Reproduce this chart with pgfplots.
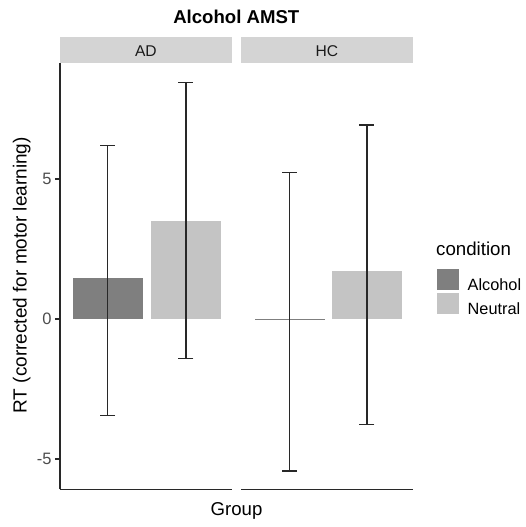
\documentclass[border=0pt]{standalone}
\usepackage{fontspec}
\setmainfont{Liberation Sans}
\usepackage{pgfplots}
\usepackage{pgfplotstable}
\pgfplotsset{compat=1.18}
\definecolor{alc}{RGB}{127,127,127}
\definecolor{neu}{RGB}{196,196,196}
\definecolor{stripc}{RGB}{212,212,212}
\definecolor{txt}{RGB}{77,77,77}
\definecolor{txtd}{RGB}{26,26,26}
\definecolor{ebc}{RGB}{40,40,40}

% x = bar centre, y = mean, ep/em = error up/down
\pgfplotstableread{
x y ep em
0.733 1.45 4.74 4.89
}\adalc
\pgfplotstableread{
x y ep em
1.280 3.50 4.94 4.90
}\adneu
\pgfplotstableread{
x y ep em
0.740 -0.05 5.29 5.37
}\hcalc
\pgfplotstableread{
x y ep em
1.280 1.70 5.23 5.46
}\hcneu

\pgfplotsset{
  panel/.style={
    scale only axis, width=171.7pt, height=426.3pt,
    xmin=0.4, xmax=1.6, ymin=-6.08, ymax=9.14,
    anchor=south west, xtick=\empty,
    axis line style={-, line width=1.1pt, ebc},
    clip=false,
  },
  barp/.style={ybar, bar width=0.49, bar shift=0pt, draw=none},
  eb/.style={mark=none, ebc, line width=1.4pt,
    /pgfplots/error bars/y dir=both, /pgfplots/error bars/y explicit,
    /pgfplots/error bars/error bar style={draw=ebc, line width=1.4pt},
    /pgfplots/error bars/error mark options={draw=ebc, line width=1.4pt, mark size=7.5pt, rotate=90}},
}

\begin{document}
\begin{tikzpicture}
\path[use as bounding box] (0pt,0pt) rectangle (526pt,527pt);
% facet strips
\fill[stripc] (60pt,464.3pt) rectangle (231.7pt,489.7pt);
\fill[stripc] (241pt,464.3pt) rectangle (412.7pt,489.7pt);
\node[anchor=base, inner sep=0, text=txtd, font=\fontsize{15.6}{18}\selectfont] at (145.85pt,470.3pt) {AD};
\node[anchor=base, inner sep=0, text=txtd, font=\fontsize{15.6}{18}\selectfont] at (326.85pt,470.3pt) {HC};
% title
\node[anchor=base, inner sep=0, font=\bfseries\fontsize{18.6}{22}\selectfont] at (236.3pt,503pt) {Alcohol AMST};
% axis titles
\node[anchor=base, inner sep=0, font=\fontsize{18.6}{22}\selectfont] at (236.5pt,12pt) {Group};
\node[anchor=base, inner sep=0, rotate=90, font=\fontsize{19}{22}\selectfont] at (26.7pt,251.7pt) {RT (corrected for motor learning)};
% legend title
\node[anchor=base west, inner sep=0, font=\fontsize{18.7}{22}\selectfont] at (436pt,271pt) {condition};

\begin{axis}[panel, at={(60pt,37.7pt)},
  axis x line*=bottom, axis y line*=left,
  ytick={-5,0,5}, yticklabels={-5,0,5},
  tick align=outside, major tick length=5pt,
  tick style={line width=1.1pt, ebc},
  yticklabel style={font=\fontsize{16.5}{18}\selectfont, text=txt},
]
\addplot[barp, fill=alc] table[x=x, y=y] {\adalc};
\addplot[barp, fill=neu] table[x=x, y=y] {\adneu};
\addplot[eb] table[x=x, y=y, y error plus=ep, y error minus=em] {\adalc};
\addplot[eb] table[x=x, y=y, y error plus=ep, y error minus=em] {\adneu};
\end{axis}

\begin{axis}[panel, at={(241pt,37.7pt)},
  axis x line*=bottom, axis y line=none, ytick=\empty,
  legend style={at={(1.1398,0.5168)}, anchor=north west, draw=none, fill=none,
    inner sep=0pt, outer sep=0pt, row sep=1pt, column sep=9.6pt,
    font=\fontsize{16.3}{18}\selectfont, nodes={inner sep=0pt}},
  legend cell align=left,
]
\addplot[forget plot, barp, fill=alc] table[x=x, y=y] {\hcalc};
\addplot[forget plot, barp, fill=neu] table[x=x, y=y] {\hcneu};
\addplot[forget plot, eb] table[x=x, y=y, y error plus=ep, y error minus=em] {\hcalc};
\addplot[forget plot, eb] table[x=x, y=y, y error plus=ep, y error minus=em] {\hcneu};
\addlegendimage{legend image code/.code={\fill[alc] (0pt,-4pt) rectangle (21pt,16pt);}}
\addlegendentry{Alcohol}
\addlegendimage{legend image code/.code={\fill[neu] (0pt,-4pt) rectangle (21pt,16pt);}}
\addlegendentry{Neutral}
\end{axis}
\end{tikzpicture}
\end{document}
